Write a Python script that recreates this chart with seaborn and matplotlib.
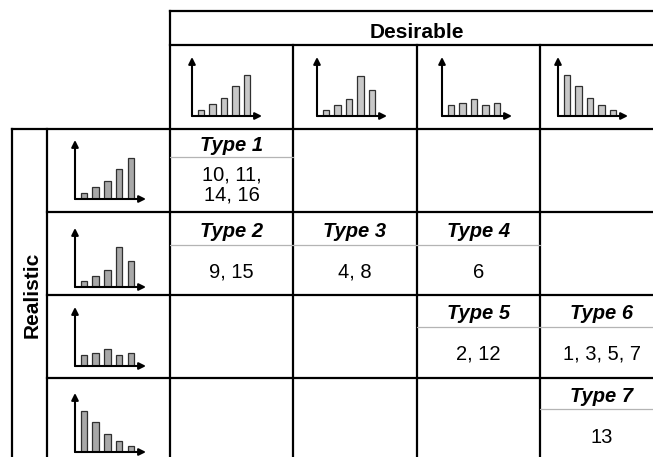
import matplotlib
matplotlib.use("Agg")
import matplotlib.pyplot as plt
import seaborn as sns
import pandas as pd

# ---------------- data ----------------
bar_cats = ["b1", "b2", "b3", "b4", "b5"]
shape_increasing = [1.0, 2.1, 3.1, 5.2, 7.2]
shape_peak = [1.0, 2.0, 3.0, 7.0, 4.6]
shape_flat = [2.0, 2.3, 2.9, 2.0, 2.2]
shape_decreasing = [7.2, 5.2, 3.1, 2.0, 1.0]
shapes = [shape_increasing, shape_peak, shape_flat, shape_decreasing]

col_header = "Desirable"
row_header = "Realistic"
# (row, col, type label, member ids)
cell_rows = [0, 1, 1, 1, 2, 2, 3]
cell_cols = [0, 0, 1, 2, 2, 3, 3]
cell_types = ["Type 1", "Type 2", "Type 3", "Type 4", "Type 5", "Type 6", "Type 7"]
cell_members = ["10, 11,\n14, 16", "9, 15", "4, 8", "6", "2, 12", "1, 3, 5, 7", "13"]

# ---------------- layout (pixels, y downward) ----------------
W, H = 653, 457
col_x = [170, 293, 417, 540, 664]
row_y = [129, 212, 295, 378, 461]
type_base = [151, 237, 319, 402]
gray_y = [157, 245, 327, 409]
num_base = [180.5, 278, 360, 443]
head_icon_x = [192, 317, 442, 558]
row_icon_y = [199, 287, 366, 452]

sns.set_style("white")
plt.rcParams["font.family"] = ["Liberation Sans", "DejaVu Sans"]
plt.rcParams["text.color"] = "black"

fig = plt.figure(figsize=(W / 100, H / 100), dpi=100)
ax = fig.add_axes([0, 0, 1, 1])
ax.set_xlim(0, W)
ax.set_ylim(H, 0)
ax.axis("off")

lw = 1.6
kw = dict(color="black", lw=lw, solid_capstyle="projecting")
ax.plot([170, 700], [11, 11], **kw)
ax.plot([170, 700], [45, 45], **kw)
ax.plot([12, 700], [129, 129], **kw)
for y in row_y[1:4]:
    ax.plot([47, 700], [y, y], **kw)
ax.plot([170, 170], [11, 500], **kw)
for x in col_x[1:4]:
    ax.plot([x, x], [45, 500], **kw)
ax.plot([12, 12], [129, 500], **kw)
ax.plot([47, 47], [129, 500], **kw)

ax.text(417, 38, col_header, ha="center", va="baseline", fontsize=15,
        fontweight="bold", color="black")
ax.text(37.5, 295, row_header, ha="center", va="baseline", rotation=90,
        rotation_mode="anchor", fontsize=15, fontweight="bold", color="black")

for r, c, t, m in zip(cell_rows, cell_cols, cell_types, cell_members):
    cx = (col_x[c] + col_x[c + 1]) / 2
    ax.text(cx, type_base[r], t, ha="center", va="baseline", fontsize=14.5,
            fontweight="bold", fontstyle="italic", color="black")
    ax.plot([col_x[c], col_x[c + 1]], [gray_y[r], gray_y[r]], color="#b4b4b4", lw=0.9)
    for i, line in enumerate(m.split("\n")):
        ax.text(cx, num_base[r] + 20 * i, line, ha="center", va="baseline",
                fontsize=14.5, color="black")


def icon(x0, y0, w, h, vals, fill):
    iax = fig.add_axes([x0 / W, 1 - y0 / H, w / W, h / H])
    df = pd.DataFrame({"cat": bar_cats, "val": vals})
    sns.barplot(data=df, x="cat", y="val", ax=iax, color=fill, edgecolor="#303030",
                linewidth=0.9, width=0.55, saturation=1)
    iax.set_xlim(-0.75, 5.28)
    iax.set_ylim(0, 10.3)
    iax.axis("off")
    ap = dict(arrowstyle="-|>", color="black", lw=1.5, mutation_scale=10,
              shrinkA=0, shrinkB=0)
    iax.annotate("", xy=(1, 0), xytext=(0, 0), xycoords="axes fraction",
                 arrowprops=ap, annotation_clip=False)
    iax.annotate("", xy=(0, 1), xytext=(0, 0), xycoords="axes fraction",
                 arrowprops=ap, annotation_clip=False)


for c in range(4):
    icon(head_icon_x[c], 116, 70, 59, shapes[c], "#c8c8c8")
for r in range(4):
    icon(75, row_icon_y[r], 71, 59, shapes[r], "#a8a8a8")

fig.savefig("out.png", dpi=100)
